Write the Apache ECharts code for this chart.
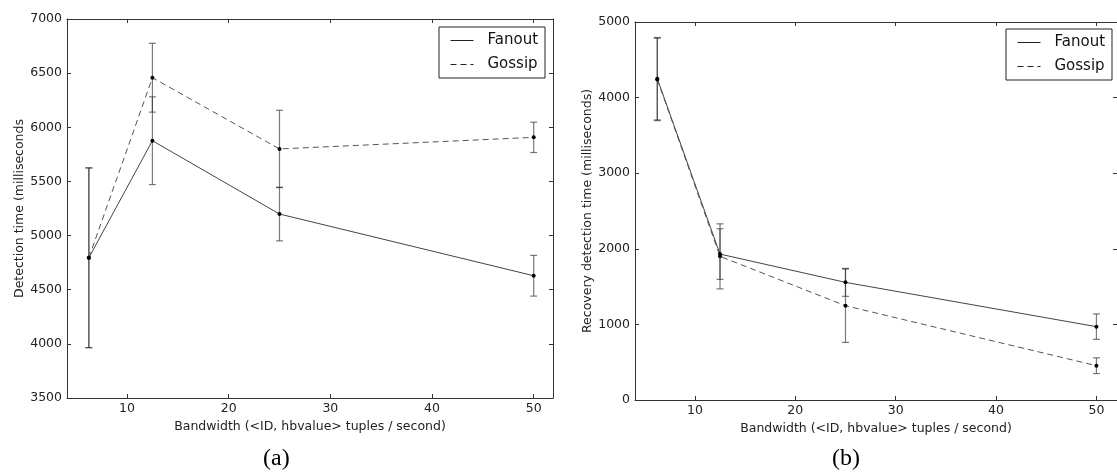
<!DOCTYPE html>
<html>
<head>
<meta charset="utf-8">
<script src="https://cdn.jsdelivr.net/npm/echarts@6/dist/echarts.min.js"></script>
<style>
  html, body { margin: 0; padding: 0; background: #fff; }
  #chart { width: 1117px; height: 475px; }
</style>
</head>
<body>
<div id="chart"></div>
<script>
// bandwidth values (tuples / second)
const bandwidth = [6.25, 12.5, 25, 50];
const xTicks = [10, 20, 30, 40, 50];

// (a) detection time
const fanoutDetect = [4795, 5876, 5199, 4629];
const fanoutDetectErr = [830, 405, 248, 188];
const gossipDetect = [4795, 6458, 5800, 5907];
const gossipDetectErr = [830, 318, 357, 140];

// (b) recovery detection time
const fanoutRecovery = [4250, 1930, 1556, 970];
const fanoutRecoveryErr = [545, 335, 185, 168];
const gossipRecovery = [4240, 1900, 1247, 454];
const gossipRecoveryErr = [545, 430, 485, 104];

const font = 'DejaVu Sans';
const axisColor = '#333';

function pairs(ys) {
    return bandwidth.map((x, i) => [x, ys[i]]);
}
function errData(ys, es) {
    return bandwidth.map((x, i) => [x, ys[i], es[i]]);
}

// error bar + dot
function renderErr(params, api) {
    const x = api.value(0), y = api.value(1), e = api.value(2);
    const t = api.coord([x, y + e]);
    const b = api.coord([x, y - e]);
    const c = api.coord([x, y]);
    const st = { stroke: 'rgba(50,50,50,0.65)', lineWidth: 1.2 };
    return {
        type: 'group',
        children: [
            { type: 'line', shape: { x1: t[0], y1: t[1], x2: b[0], y2: b[1] }, style: st },
            { type: 'line', shape: { x1: t[0] - 3.5, y1: t[1], x2: t[0] + 3.5, y2: t[1] }, style: st },
            { type: 'line', shape: { x1: b[0] - 3.5, y1: b[1], x2: b[0] + 3.5, y2: b[1] }, style: st },
            { type: 'circle', shape: { cx: c[0], cy: c[1], r: 2 }, style: { fill: '#000' }, z2: 10 }
        ]
    };
}

function xAx(grid, min, max, pos, name) {
    return {
        type: 'value', gridIndex: grid, position: pos, min: min, max: max,
        name: name, nameLocation: 'middle', nameGap: 16,
        nameTextStyle: { fontFamily: font, fontSize: 12.5, color: '#222' },
        axisLine: { show: true, onZero: false, lineStyle: { color: axisColor, width: 1 } },
        axisTick: { show: true, inside: true, length: 4, customValues: xTicks, lineStyle: { color: axisColor } },
        axisLabel: { show: pos === 'bottom', customValues: xTicks, margin: 4,
            fontFamily: font, fontSize: 12.5, color: '#222' },
        splitLine: { show: false }
    };
}
function yAx(grid, min, max, step, pos, name) {
    return {
        type: 'value', gridIndex: grid, position: pos, min: min, max: max, interval: step,
        name: name, nameLocation: 'middle', nameGap: 41,
        nameTextStyle: { fontFamily: font, fontSize: 12.5, color: '#222' },
        axisLine: { show: true, onZero: false, lineStyle: { color: axisColor, width: 1 } },
        axisTick: { show: true, inside: true, length: 4, lineStyle: { color: axisColor } },
        axisLabel: { show: pos === 'left', margin: 5, fontFamily: font, fontSize: 12.5, color: '#222',
            formatter: v => String(v) },
        splitLine: { show: false }
    };
}

function lineSeries(name, xi, yi, ys, dashed) {
    return {
        name: name, type: 'line', xAxisIndex: xi, yAxisIndex: yi,
        data: pairs(ys), symbol: 'none', z: 2,
        lineStyle: { color: dashed ? '#555' : '#444', width: 1, type: dashed ? [6, 4] : 'solid' },
        itemStyle: { color: dashed ? '#555' : '#444' }
    };
}
function errSeries(xi, yi, ys, es) {
    return {
        type: 'custom', name: 'err', xAxisIndex: xi, yAxisIndex: yi,
        data: errData(ys, es), renderItem: renderErr, z: 3,
        encode: { x: 0, y: 1 }, silent: true
    };
}

function legendAt(left, top) {
    return {
        data: ['Fanout', 'Gossip'], orient: 'vertical', left: left, top: top,
        itemWidth: 23, itemHeight: 14, itemGap: 9,
        padding: [6, 7, 6, 11],
        borderColor: '#222', borderWidth: 1, backgroundColor: '#fff',
        itemStyle: { opacity: 0 },
        lineStyle: { color: '#222', width: 1 },
        textStyle: { fontFamily: font, fontSize: 15, color: '#111', padding: [0, 0, 0, 9] },
        selectedMode: false
    };
}

const chart = echarts.init(document.getElementById('chart'), null, { renderer: 'canvas' });
chart.setOption({
    animation: false,
    backgroundColor: '#fff',
    grid: [
        { left: 67, top: 19, width: 486, height: 379 },
        { left: 635, top: 22, width: 485, height: 378 }
    ],
    xAxis: [
        xAx(0, 4.1, 51.9, 'bottom', 'Bandwidth (<ID, hbvalue> tuples / second)'),
        xAx(0, 4.1, 51.9, 'top', ''),
        xAx(1, 4.03, 52.05, 'bottom', 'Bandwidth (<ID, hbvalue> tuples / second)'),
        xAx(1, 4.03, 52.05, 'top', '')
    ],
    yAxis: [
        yAx(0, 3500, 7000, 500, 'left', 'Detection time (milliseconds'),
        yAx(0, 3500, 7000, 500, 'right', ''),
        yAx(1, 0, 5000, 1000, 'left', 'Recovery detection time (milliseconds)'),
        yAx(1, 0, 5000, 1000, 'right', '')
    ],
    legend: [legendAt(439, 27), legendAt(1006, 29)],
    graphic: [
        { type: 'text', left: 263, top: 447, style: { text: '(a)', font: '24px "Liberation Serif"', fill: '#000' } },
        { type: 'text', left: 832, top: 447, style: { text: '(b)', font: '24px "Liberation Serif"', fill: '#000' } }
    ],
    series: [
        lineSeries('Fanout', 0, 0, fanoutDetect, false),
        lineSeries('Gossip', 0, 0, gossipDetect, true),
        errSeries(0, 0, fanoutDetect, fanoutDetectErr),
        errSeries(0, 0, gossipDetect, gossipDetectErr),
        lineSeries('Fanout', 2, 2, fanoutRecovery, false),
        lineSeries('Gossip', 2, 2, gossipRecovery, true),
        errSeries(2, 2, fanoutRecovery, fanoutRecoveryErr),
        errSeries(2, 2, gossipRecovery, gossipRecoveryErr)
    ]
});
</script>
</body>
</html>
